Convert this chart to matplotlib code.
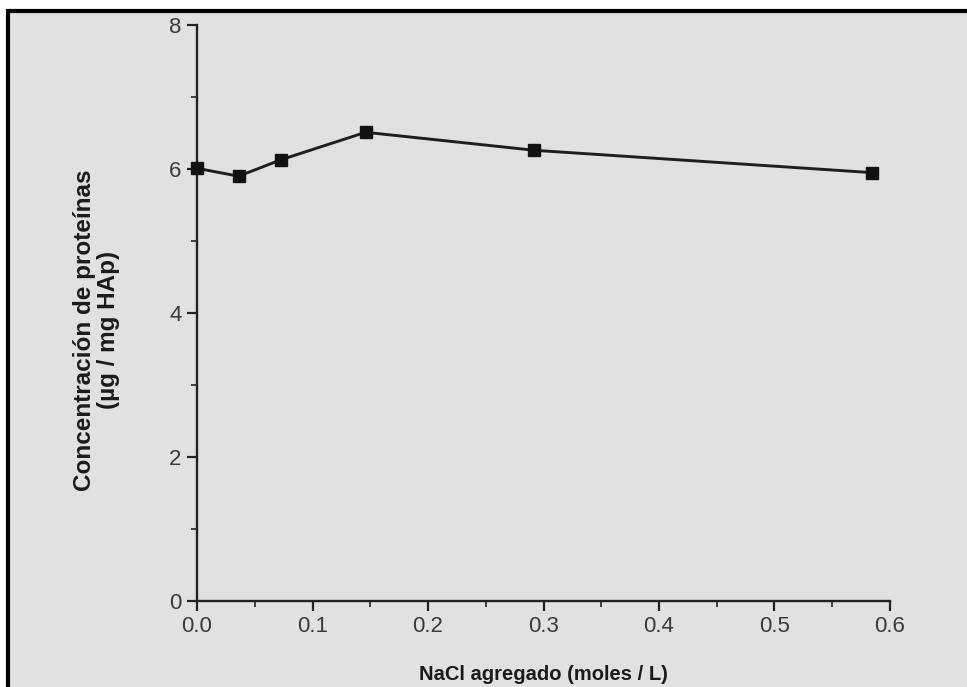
import matplotlib.pyplot as plt
from matplotlib.patches import Rectangle
from matplotlib.ticker import MultipleLocator

# NaCl added (moles / L) vs protein concentration (ug / mg HAp)
nacl = [0.0, 0.036, 0.073, 0.146, 0.292, 0.584]
proteina = [6.01, 5.90, 6.13, 6.51, 6.26, 5.95]

plt.rcParams['font.family'] = ['Liberation Sans', 'DejaVu Sans']

fig = plt.figure(figsize=(9.67, 6.87), dpi=100, facecolor='white')

# scanned page look: gray sheet with black edge on top and left
fig.patches.append(Rectangle((8 / 967, -0.1), 1.2, 1 - 11 / 687 + 0.1,
                             transform=fig.transFigure, facecolor='#e1e1e1',
                             edgecolor='black', linewidth=3, zorder=-10))

ax = fig.add_axes([197 / 967, 1 - 601 / 687, (890 - 197) / 967, (601 - 25) / 687])
ax.patch.set_alpha(0)

ax.plot(nacl, proteina, color='#1e1e1e', linewidth=2.1, marker='s',
        markersize=8, markerfacecolor='#111111', markeredgecolor='#111111',
        clip_on=False, zorder=5)

ax.set_xlim(0, 0.6)
ax.set_ylim(0, 8)
ax.xaxis.set_minor_locator(MultipleLocator(0.05))
ax.yaxis.set_minor_locator(MultipleLocator(1))
ax.set_xticks([0, 0.1, 0.2, 0.3, 0.4, 0.5, 0.6])
ax.set_xticklabels(['0.0', '0.1', '0.2', '0.3', '0.4', '0.5', '0.6'])
ax.set_yticks([0, 2, 4, 6, 8])
ax.set_yticklabels(['0', '2', '4', '6', '8'])

for s in ['top', 'right']:
    ax.spines[s].set_visible(False)
for s in ['left', 'bottom']:
    ax.spines[s].set_color('#222222')
    ax.spines[s].set_linewidth(1.7)

ax.tick_params(which='major', direction='out', length=7, width=1.6,
               color='#222222', labelsize=16, labelcolor='#3a3a3a', pad=4)
ax.tick_params(which='minor', direction='out', length=4, width=1.3,
               color='#333333')

ax.set_xlabel('NaCl agregado (moles / L)', fontsize=14.5, fontweight='bold',
              color='#1a1a1a', labelpad=20)
ax.set_ylabel('Concentración de proteínas\n(µg / mg HAp)', fontsize=17.5,
              fontweight='bold', color='#1a1a1a', linespacing=1.05)
ax.yaxis.set_label_coords(-0.111, 0.47)

fig.savefig('out.png', dpi=100, facecolor=fig.get_facecolor())
